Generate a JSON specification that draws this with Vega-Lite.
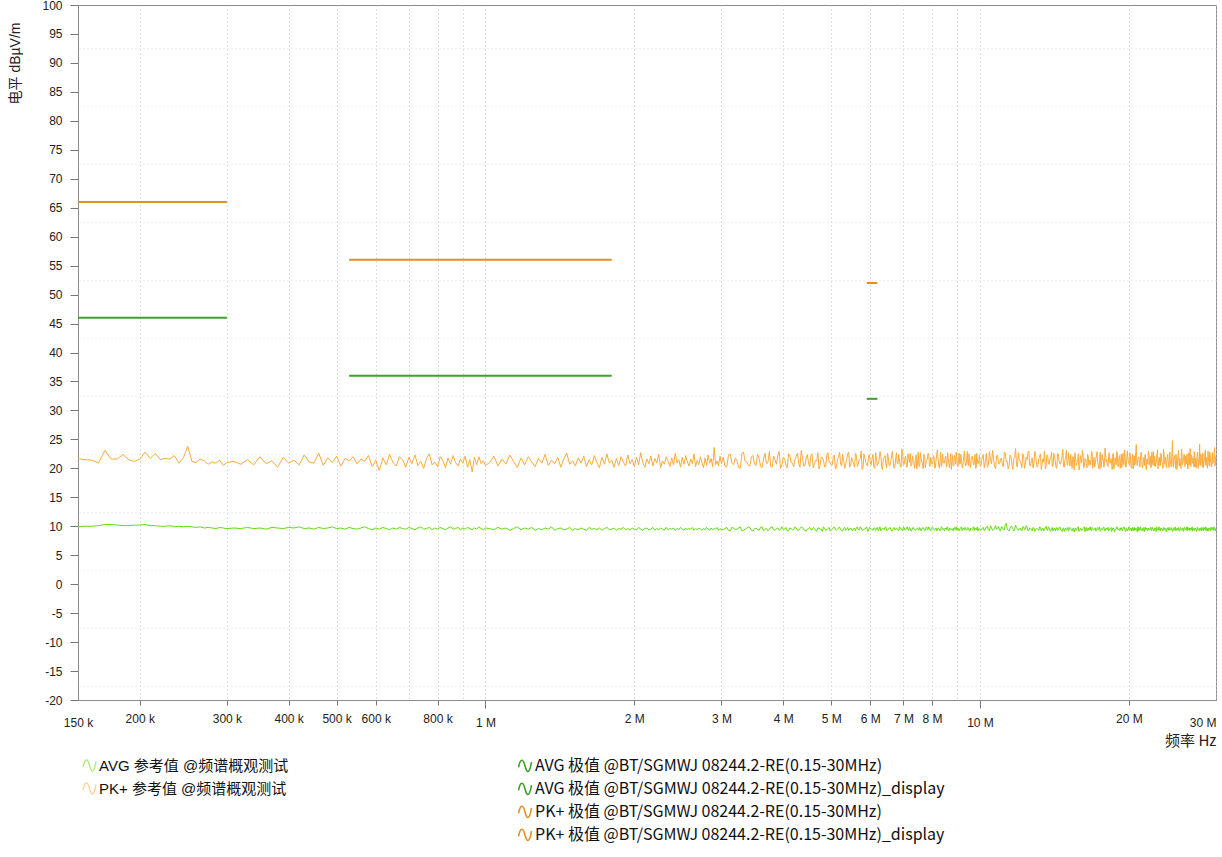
{
"$schema": "https://vega.github.io/schema/vega-lite/v6.json",
"width": 1138, "height": 695,
"autosize": "none",
"padding": {"left": 78, "top": 5, "right": 6, "bottom": 157},
"background": "white",
"config": {"view": {"stroke": "#8c8c8c", "strokeWidth": 1}, "font": "Liberation Sans", "legend": {"padding": 0}},
"datasets": {
"trace": [
{"f":150,"p":21.7,"a":9.9},{"f":155,"p":21.5,"a":10.0},{"f":160,"p":21.4,"a":10.0},{"f":165,"p":20.9,"a":10.1},{"f":170,"p":23.1,"a":10.3},{"f":175,"p":21.6,"a":10.3},{"f":180,"p":21.6,"a":10.2},{"f":185,"p":22.4,"a":10.1},{"f":190,"p":21.5,"a":10.1},{"f":195,"p":21.2,"a":10.2},{"f":200,"p":21.6,"a":10.2},{"f":205,"p":22.8,"a":10.3},{"f":210,"p":21.7,"a":10.1},{"f":215,"p":22.6,"a":10.1},{"f":220,"p":21.5,"a":10.0},{"f":225,"p":21.7,"a":10.0},{"f":230,"p":21.6,"a":10.1},{"f":235,"p":22.2,"a":9.9},{"f":240,"p":20.9,"a":10.0},{"f":245,"p":21.8,"a":9.9},{"f":250,"p":23.8,"a":10.0},{"f":255,"p":21.2,"a":9.9},{"f":260,"p":21.0,"a":9.8},{"f":265,"p":21.6,"a":9.9},{"f":270,"p":21.3,"a":9.7},{"f":275,"p":20.7,"a":9.8},{"f":280,"p":21.1,"a":9.7},{"f":285,"p":20.9,"a":9.6},{"f":290,"p":21.4,"a":9.8},{"f":295,"p":20.5,"a":9.7},{"f":300,"p":21.0,"a":9.6},
{"f":310,"p":21.2,"a":9.7},{"f":320,"p":20.7,"a":9.6},{"f":330,"p":21.5,"a":9.8},{"f":340,"p":20.6,"a":9.6},{"f":350,"p":22.0,"a":9.7},{"f":360,"p":20.8,"a":9.5},{"f":370,"p":21.3,"a":9.8},{"f":380,"p":20.2,"a":9.7},{"f":390,"p":21.9,"a":9.6},{"f":400,"p":20.9,"a":9.8},
{"f":410,"p":21.4,"a":9.7},{"f":420,"p":20.6,"a":9.9},{"f":430,"p":22.3,"a":9.6},{"f":440,"p":21.1,"a":9.7},{"f":450,"p":20.9,"a":9.5},{"f":460,"p":22.6,"a":9.8},{"f":470,"p":20.5,"a":9.6},{"f":480,"p":21.8,"a":9.7},{"f":490,"p":21.0,"a":9.9},{"f":500,"p":22.1,"a":9.6},
{"f":510,"p":20.4,"a":9.7},{"f":520,"p":21.7,"a":9.5},{"f":530,"p":21.3,"a":9.8},{"f":540,"p":22.0,"a":9.6},{"f":550,"p":20.8,"a":9.5},{"f":560,"p":21.6,"a":9.7},{"f":570,"p":21.2,"a":9.9},{"f":580,"p":22.2,"a":9.6},{"f":590,"p":20.3,"a":9.4},{"f":600,"p":21.4,"a":9.7},
{"f":610,"p":19.6,"a":9.5},{"f":620,"p":21.8,"a":9.8},{"f":630,"p":20.6,"a":9.6},{"f":640,"p":22.4,"a":9.4},{"f":650,"p":21.0,"a":9.7},{"f":660,"p":20.4,"a":9.5},{"f":670,"p":22.0,"a":9.8},{"f":680,"p":21.5,"a":9.6},{"f":690,"p":20.2,"a":9.5},{"f":700,"p":21.9,"a":9.8},
{"f":710,"p":20.8,"a":9.6},{"f":720,"p":22.3,"a":9.4},{"f":730,"p":20.5,"a":9.7},{"f":740,"p":21.2,"a":9.9},{"f":750,"p":20.0,"a":9.5},{"f":760,"p":21.7,"a":9.6},{"f":770,"p":22.5,"a":9.8},{"f":780,"p":20.6,"a":9.4},{"f":790,"p":21.1,"a":9.7},{"f":800,"p":20.3,"a":9.5},
{"f":810,"p":22.0,"a":9.8},{"f":820,"p":21.4,"a":9.6},{"f":830,"p":20.1,"a":9.4},{"f":840,"p":21.8,"a":9.7},{"f":850,"p":20.7,"a":9.9},{"f":860,"p":22.2,"a":9.5},{"f":870,"p":21.0,"a":9.6},{"f":880,"p":20.4,"a":9.8},{"f":890,"p":21.6,"a":9.4},{"f":900,"p":20.9,"a":9.7},
{"f":910,"p":22.1,"a":9.5},{"f":920,"p":20.2,"a":9.8},{"f":930,"p":21.5,"a":9.6},{"f":940,"p":19.4,"a":9.4},{"f":950,"p":21.9,"a":9.7},{"f":960,"p":20.6,"a":9.5},{"f":970,"p":22.0,"a":9.9},{"f":980,"p":20.8,"a":9.6},{"f":990,"p":21.3,"a":9.4},{"f":1000,"p":20.5,"a":9.7},
{"f":1020,"p":21.0,"a":9.6},{"f":1040,"p":22.1,"a":9.4},{"f":1060,"p":20.4,"a":9.8},{"f":1080,"p":21.6,"a":9.5},{"f":1100,"p":20.7,"a":9.7},{"f":1120,"p":22.3,"a":9.3},{"f":1140,"p":21.2,"a":9.6},{"f":1160,"p":20.1,"a":9.9},{"f":1180,"p":21.8,"a":9.4},{"f":1200,"p":20.6,"a":9.7},
{"f":1220,"p":22.0,"a":9.5},{"f":1240,"p":21.1,"a":9.8},{"f":1260,"p":20.3,"a":9.3},{"f":1280,"p":21.7,"a":9.6},{"f":1300,"p":20.9,"a":9.4},{"f":1320,"p":22.4,"a":9.7},{"f":1340,"p":20.5,"a":9.5},{"f":1360,"p":21.4,"a":9.9},{"f":1380,"p":20.8,"a":9.3},{"f":1400,"p":21.9,"a":9.6},
{"f":1420,"p":20.2,"a":9.7},{"f":1440,"p":21.6,"a":9.4},{"f":1460,"p":22.6,"a":9.5},{"f":1480,"p":20.7,"a":9.8},{"f":1500,"p":21.3,"a":9.3},{"f":1520,"p":20.4,"a":9.6},{"f":1540,"p":21.8,"a":9.4},{"f":1560,"p":20.9,"a":9.7},{"f":1580,"p":22.1,"a":9.5},{"f":1600,"p":20.3,"a":9.3},
{"f":1620,"p":21.5,"a":9.8},{"f":1640,"p":20.6,"a":9.5},{"f":1660,"p":22.2,"a":9.6},{"f":1680,"p":21.0,"a":9.4},{"f":1700,"p":20.1,"a":9.7},{"f":1720,"p":21.9,"a":9.3},{"f":1740,"p":20.7,"a":9.6},{"f":1760,"p":22.5,"a":9.8},{"f":1780,"p":20.9,"a":9.4},{"f":1800,"p":21.4,"a":9.5},
{"f":1820,"p":20.2,"a":9.7},{"f":1840,"p":21.7,"a":9.3},{"f":1860,"p":20.5,"a":9.6},{"f":1880,"p":22.0,"a":9.5},{"f":1900,"p":21.1,"a":9.8},{"f":1920,"p":20.4,"a":9.4},{"f":1940,"p":22.3,"a":9.6},{"f":1960,"p":20.8,"a":9.3},{"f":1980,"p":21.5,"a":9.7},{"f":2000,"p":20.3,"a":9.5},
{"f":2020,"p":21.9,"a":9.4},{"f":2040,"p":20.6,"a":9.8},{"f":2060,"p":22.7,"a":9.5},{"f":2080,"p":21.0,"a":9.3},{"f":2100,"p":20.2,"a":9.6},{"f":2120,"p":21.6,"a":9.7},{"f":2140,"p":20.8,"a":9.4},{"f":2160,"p":22.1,"a":9.5},{"f":2180,"p":20.4,"a":9.8},{"f":2200,"p":21.7,"a":9.3},
{"f":2220,"p":20.9,"a":9.6},{"f":2240,"p":22.4,"a":9.4},{"f":2260,"p":20.1,"a":9.7},{"f":2280,"p":21.3,"a":9.5},{"f":2300,"p":20.7,"a":9.3},{"f":2320,"p":22.0,"a":9.8},{"f":2340,"p":21.2,"a":9.4},{"f":2360,"p":20.3,"a":9.6},{"f":2380,"p":21.8,"a":9.5},{"f":2400,"p":20.6,"a":9.7},
{"f":2420,"p":22.6,"a":9.3},{"f":2440,"p":20.9,"a":9.6},{"f":2460,"p":21.5,"a":9.4},{"f":2480,"p":20.2,"a":9.8},{"f":2500,"p":21.9,"a":9.5},{"f":2520,"p":20.7,"a":9.3},{"f":2540,"p":22.2,"a":9.7},{"f":2560,"p":21.1,"a":9.4},{"f":2580,"p":20.4,"a":9.6},{"f":2600,"p":21.6,"a":9.5},
{"f":2620,"p":20.8,"a":9.8},{"f":2640,"p":22.5,"a":9.3},{"f":2660,"p":20.3,"a":9.6},{"f":2680,"p":21.4,"a":9.4},{"f":2700,"p":20.6,"a":9.7},{"f":2720,"p":22.0,"a":9.5},{"f":2740,"p":21.0,"a":9.3},{"f":2760,"p":20.1,"a":9.6},{"f":2780,"p":21.8,"a":9.4},{"f":2800,"p":20.5,"a":9.8},
{"f":2820,"p":22.3,"a":9.5},{"f":2840,"p":20.9,"a":9.3},{"f":2860,"p":21.7,"a":9.7},{"f":2880,"p":20.2,"a":9.4},{"f":2900,"p":23.6,"a":9.6},{"f":2920,"p":20.6,"a":9.5},{"f":2940,"p":21.3,"a":9.8},{"f":2960,"p":20.4,"a":9.3},{"f":2980,"p":22.1,"a":9.6},{"f":3000,"p":20.8,"a":9.4},
{"f":3050,"p":20.4,"a":9.6},{"f":3100,"p":22.3,"a":9.3},{"f":3150,"p":20.9,"a":9.8},{"f":3200,"p":21.8,"a":9.4},{"f":3250,"p":20.1,"a":9.7},{"f":3300,"p":22.6,"a":9.2},{"f":3350,"p":21.2,"a":9.5},{"f":3400,"p":20.5,"a":9.9},{"f":3450,"p":22.0,"a":9.3},{"f":3500,"p":20.7,"a":9.6},
{"f":3550,"p":22.4,"a":9.4},{"f":3600,"p":20.3,"a":9.8},{"f":3650,"p":21.6,"a":9.2},{"f":3700,"p":20.8,"a":9.6},{"f":3750,"p":22.9,"a":9.5},{"f":3800,"p":20.2,"a":9.9},{"f":3850,"p":21.5,"a":9.3},{"f":3900,"p":22.2,"a":9.7},{"f":3950,"p":20.0,"a":9.4},{"f":4000,"p":21.9,"a":9.5},
{"f":4050,"p":20.6,"a":9.8},{"f":4100,"p":22.5,"a":9.2},{"f":4150,"p":21.0,"a":9.6},{"f":4200,"p":20.3,"a":9.4},{"f":4250,"p":22.1,"a":9.7},{"f":4300,"p":20.8,"a":9.3},{"f":4350,"p":23.1,"a":9.9},{"f":4400,"p":20.4,"a":9.5},{"f":4450,"p":21.7,"a":9.2},{"f":4500,"p":20.9,"a":9.6},
{"f":4550,"p":22.3,"a":9.4},{"f":4600,"p":20.1,"a":9.8},{"f":4650,"p":21.4,"a":9.3},{"f":4700,"p":22.7,"a":9.7},{"f":4750,"p":20.5,"a":9.5},{"f":4800,"p":21.8,"a":9.1},{"f":4850,"p":20.2,"a":9.6},{"f":4900,"p":22.4,"a":9.4},{"f":4950,"p":21.1,"a":9.8},{"f":5000,"p":20.6,"a":9.3},
{"f":5050,"p":22.0,"a":9.7},{"f":5100,"p":19.9,"a":9.4},{"f":5150,"p":21.6,"a":9.5},{"f":5200,"p":22.8,"a":9.9},{"f":5250,"p":20.4,"a":9.2},{"f":5300,"p":21.3,"a":9.6},{"f":5350,"p":20.7,"a":9.3},{"f":5400,"p":22.5,"a":9.8},{"f":5450,"p":20.2,"a":9.5},{"f":5500,"p":21.9,"a":9.4},
{"f":5550,"p":20.8,"a":9.6},{"f":5600,"p":22.6,"a":9.2},{"f":5650,"p":20.3,"a":9.8},{"f":5700,"p":21.5,"a":9.4},{"f":5750,"p":23.0,"a":9.7},{"f":5800,"p":20.1,"a":9.3},{"f":5850,"p":21.8,"a":9.5},{"f":5900,"p":20.6,"a":9.9},{"f":5950,"p":22.2,"a":9.2},{"f":6000,"p":20.9,"a":9.6},
{"f":6050,"p":21.7,"a":9.4},{"f":6100,"p":20.2,"a":9.7},{"f":6150,"p":22.7,"a":9.3},{"f":6200,"p":20.5,"a":9.8},{"f":6250,"p":21.4,"a":9.5},{"f":6300,"p":22.3,"a":9.2},{"f":6350,"p":19.8,"a":9.6},{"f":6400,"p":21.9,"a":9.4},{"f":6450,"p":20.7,"a":9.9},{"f":6500,"p":22.6,"a":9.3},
{"f":6550,"p":20.4,"a":9.7},{"f":6600,"p":21.2,"a":9.5},{"f":6650,"p":22.9,"a":9.2},{"f":6700,"p":20.0,"a":9.8},{"f":6750,"p":21.6,"a":9.4},{"f":6800,"p":20.8,"a":9.6},{"f":6850,"p":22.4,"a":9.3},{"f":6900,"p":20.3,"a":9.7},{"f":6950,"p":23.3,"a":9.5},{"f":7000,"p":20.6,"a":9.9},
{"f":7050,"p":21.8,"a":9.3},{"f":7100,"p":20.2,"a":9.6},{"f":7150,"p":22.5,"a":9.4},{"f":7200,"p":21.0,"a":9.8},{"f":7250,"p":20.4,"a":9.2},{"f":7300,"p":22.1,"a":9.7},{"f":7350,"p":20.9,"a":9.5},{"f":7400,"p":21.5,"a":9.3},{"f":7450,"p":19.9,"a":9.6},{"f":7500,"p":22.8,"a":9.4},
{"f":7550,"p":20.5,"a":9.8},{"f":7600,"p":21.7,"a":9.2},{"f":7650,"p":20.8,"a":9.7},{"f":7700,"p":22.4,"a":9.5},{"f":7750,"p":20.1,"a":9.3},{"f":7800,"p":21.3,"a":9.9},{"f":7850,"p":22.6,"a":9.4},{"f":7900,"p":20.4,"a":9.6},{"f":7950,"p":21.9,"a":9.2},{"f":8000,"p":20.7,"a":9.8},
{"f":8050,"p":22.2,"a":9.5},{"f":8100,"p":20.0,"a":9.3},{"f":8150,"p":21.6,"a":9.7},{"f":8200,"p":23.2,"a":9.4},{"f":8250,"p":20.6,"a":9.6},{"f":8300,"p":21.1,"a":9.2},{"f":8350,"p":20.3,"a":9.9},{"f":8400,"p":22.5,"a":9.5},{"f":8450,"p":20.9,"a":9.3},{"f":8500,"p":21.8,"a":9.7},
{"f":8550,"p":20.2,"a":9.4},{"f":8600,"p":22.7,"a":9.8},{"f":8650,"p":20.8,"a":9.2},{"f":8700,"p":21.4,"a":9.6},{"f":8750,"p":19.8,"a":9.5},{"f":8800,"p":22.3,"a":9.3},{"f":8850,"p":20.5,"a":9.7},{"f":8900,"p":21.9,"a":9.4},{"f":8950,"p":22.8,"a":9.9},{"f":9000,"p":20.3,"a":9.6},
{"f":9050,"p":21.6,"a":9.3},{"f":9100,"p":20.7,"a":9.5},{"f":9150,"p":22.4,"a":9.8},{"f":9200,"p":20.1,"a":9.2},{"f":9250,"p":21.2,"a":9.7},{"f":9300,"p":23.0,"a":9.4},{"f":9350,"p":20.4,"a":9.6},{"f":9400,"p":21.8,"a":9.3},{"f":9450,"p":20.9,"a":9.8},{"f":9500,"p":22.5,"a":9.5},
{"f":9550,"p":20.2,"a":9.2},{"f":9600,"p":21.5,"a":9.6},{"f":9650,"p":22.1,"a":9.4},{"f":9700,"p":20.6,"a":9.9},{"f":9750,"p":21.9,"a":9.3},{"f":9800,"p":20.0,"a":9.7},{"f":9850,"p":22.6,"a":9.5},{"f":9900,"p":20.8,"a":9.2},{"f":9950,"p":21.3,"a":9.6},{"f":10000,"p":20.4,"a":9.4},
{"f":10100,"p":21.9,"a":9.6},{"f":10200,"p":20.1,"a":9.2},{"f":10300,"p":22.6,"a":9.9},{"f":10400,"p":20.7,"a":9.4},{"f":10500,"p":21.4,"a":10.1},{"f":10600,"p":23.1,"a":9.3},{"f":10700,"p":20.3,"a":9.7},{"f":10800,"p":22.0,"a":9.5},{"f":10900,"p":20.9,"a":10.0},{"f":11000,"p":21.6,"a":9.2},
{"f":11100,"p":20.4,"a":9.8},{"f":11200,"p":22.8,"a":9.4},{"f":11300,"p":21.1,"a":10.5},{"f":11400,"p":19.9,"a":9.3},{"f":11500,"p":22.3,"a":9.7},{"f":11600,"p":20.6,"a":9.9},{"f":11700,"p":21.7,"a":9.2},{"f":11800,"p":23.4,"a":10.2},{"f":11900,"p":20.2,"a":9.5},{"f":12000,"p":21.5,"a":9.6},
{"f":12100,"p":20.8,"a":9.3},{"f":12200,"p":22.5,"a":9.9},{"f":12300,"p":20.0,"a":9.4},{"f":12400,"p":21.9,"a":10.1},{"f":12500,"p":22.7,"a":9.2},{"f":12600,"p":20.5,"a":9.7},{"f":12700,"p":21.3,"a":9.5},{"f":12800,"p":20.1,"a":9.8},{"f":12900,"p":22.9,"a":9.1},{"f":13000,"p":21.0,"a":9.6},
{"f":13100,"p":20.6,"a":9.4},{"f":13200,"p":22.2,"a":9.9},{"f":13300,"p":19.8,"a":9.2},{"f":13400,"p":21.6,"a":9.7},{"f":13500,"p":23.0,"a":9.5},{"f":13600,"p":20.4,"a":10.0},{"f":13700,"p":22.1,"a":9.3},{"f":13800,"p":20.7,"a":9.6},{"f":13900,"p":21.8,"a":9.1},{"f":14000,"p":20.3,"a":9.8},
{"f":14100,"p":22.6,"a":9.5},{"f":14200,"p":21.2,"a":9.2},{"f":14300,"p":20.0,"a":9.8},{"f":14400,"p":22.4,"a":9.4},{"f":14500,"p":20.8,"a":9.9},{"f":14600,"p":21.5,"a":9.3},{"f":14700,"p":23.3,"a":9.6},{"f":14800,"p":20.2,"a":9.1},{"f":14900,"p":21.9,"a":9.7},{"f":15000,"p":20.6,"a":9.5},
{"f":15100,"p":22.7,"a":9.2},{"f":15200,"p":20.4,"a":9.8},{"f":15300,"p":21.3,"a":9.4},{"f":15400,"p":22.0,"a":9.6},{"f":15500,"p":19.7,"a":9.0},{"f":15600,"p":21.8,"a":9.7},{"f":15700,"p":20.9,"a":9.5},{"f":15800,"p":22.5,"a":9.9},{"f":15900,"p":20.3,"a":9.3},{"f":16000,"p":21.6,"a":9.6},
{"f":16100,"p":23.1,"a":9.4},{"f":16200,"p":20.1,"a":9.7},{"f":16300,"p":21.7,"a":9.1},{"f":16400,"p":20.8,"a":9.8},{"f":16500,"p":22.4,"a":9.5},{"f":16600,"p":20.5,"a":9.3},{"f":16700,"p":21.2,"a":9.9},{"f":16800,"p":22.9,"a":9.2},{"f":16900,"p":20.0,"a":9.6},{"f":17000,"p":21.9,"a":9.4},
{"f":17100,"p":20.7,"a":9.7},{"f":17200,"p":22.3,"a":9.3},{"f":17300,"p":21.0,"a":9.8},{"f":17400,"p":19.9,"a":9.5},{"f":17500,"p":22.8,"a":9.1},{"f":17600,"p":20.6,"a":9.6},{"f":17700,"p":21.5,"a":9.4},{"f":17800,"p":20.2,"a":9.9},{"f":17900,"p":23.5,"a":9.2},{"f":18000,"p":21.1,"a":9.7},
{"f":18100,"p":20.4,"a":9.5},{"f":18200,"p":22.1,"a":9.2},{"f":18300,"p":20.9,"a":9.6},{"f":18400,"p":21.7,"a":9.8},{"f":18500,"p":19.8,"a":9.3},{"f":18600,"p":22.6,"a":9.7},{"f":18700,"p":20.5,"a":9.0},{"f":18800,"p":21.4,"a":9.5},{"f":18900,"p":22.9,"a":9.9},{"f":19000,"p":20.3,"a":9.4},
{"f":19100,"p":21.8,"a":9.6},{"f":19200,"p":20.0,"a":9.3},{"f":19300,"p":22.4,"a":9.8},{"f":19400,"p":21.0,"a":9.2},{"f":19500,"p":20.6,"a":9.7},{"f":19600,"p":23.2,"a":9.5},{"f":19700,"p":20.2,"a":9.1},{"f":19800,"p":21.6,"a":9.6},{"f":19900,"p":22.0,"a":9.4},{"f":20000,"p":20.8,"a":9.9},
{"f":20100,"p":22.7,"a":9.3},{"f":20200,"p":20.3,"a":9.7},{"f":20300,"p":21.5,"a":9.5},{"f":20400,"p":19.9,"a":9.2},{"f":20500,"p":22.2,"a":9.8},{"f":20600,"p":20.7,"a":9.4},{"f":20700,"p":24.1,"a":9.6},{"f":20800,"p":20.4,"a":9.0},{"f":20900,"p":21.9,"a":9.7},{"f":21000,"p":20.9,"a":9.5},
{"f":21100,"p":21.3,"a":9.9},{"f":21200,"p":22.8,"a":9.3},{"f":21300,"p":20.1,"a":9.6},{"f":21400,"p":21.7,"a":9.4},{"f":21500,"p":20.5,"a":9.1},{"f":21600,"p":22.4,"a":9.8},{"f":21700,"p":19.8,"a":9.5},{"f":21800,"p":21.2,"a":9.2},{"f":21900,"p":23.0,"a":9.7},{"f":22000,"p":20.6,"a":9.4},
{"f":22100,"p":22.1,"a":9.6},{"f":22200,"p":20.2,"a":9.2},{"f":22300,"p":21.6,"a":9.8},{"f":22400,"p":22.9,"a":9.5},{"f":22500,"p":20.4,"a":9.3},{"f":22600,"p":21.0,"a":9.7},{"f":22700,"p":20.8,"a":9.1},{"f":22800,"p":22.5,"a":9.6},{"f":22900,"p":19.9,"a":9.4},{"f":23000,"p":21.8,"a":9.9},
{"f":23100,"p":20.5,"a":9.3},{"f":23200,"p":22.6,"a":9.7},{"f":23300,"p":21.1,"a":9.5},{"f":23400,"p":20.0,"a":9.2},{"f":23500,"p":23.3,"a":9.8},{"f":23600,"p":20.7,"a":9.4},{"f":23700,"p":21.9,"a":9.6},{"f":23800,"p":20.3,"a":9.0},{"f":23900,"p":22.2,"a":9.7},{"f":24000,"p":21.4,"a":9.5},
{"f":24100,"p":20.1,"a":9.8},{"f":24200,"p":22.8,"a":9.3},{"f":24300,"p":20.6,"a":9.6},{"f":24400,"p":21.5,"a":9.4},{"f":24500,"p":24.8,"a":9.1},{"f":24600,"p":20.2,"a":9.7},{"f":24700,"p":21.7,"a":9.5},{"f":24800,"p":20.9,"a":9.9},{"f":24900,"p":22.4,"a":9.2},{"f":25000,"p":19.8,"a":9.6},
{"f":25100,"p":21.6,"a":9.4},{"f":25200,"p":23.1,"a":9.8},{"f":25300,"p":20.4,"a":9.2},{"f":25400,"p":21.2,"a":9.6},{"f":25500,"p":20.0,"a":9.5},{"f":25600,"p":22.7,"a":9.3},{"f":25700,"p":20.8,"a":9.7},{"f":25800,"p":21.9,"a":9.1},{"f":25900,"p":22.3,"a":9.8},{"f":26000,"p":20.5,"a":9.4},
{"f":26100,"p":21.0,"a":9.6},{"f":26200,"p":22.5,"a":9.2},{"f":26300,"p":19.9,"a":9.9},{"f":26400,"p":21.7,"a":9.4},{"f":26500,"p":20.6,"a":9.7},{"f":26600,"p":23.4,"a":9.3},{"f":26700,"p":20.3,"a":9.5},{"f":26800,"p":22.0,"a":9.8},{"f":26900,"p":20.9,"a":9.2},{"f":27000,"p":21.4,"a":9.6},
{"f":27100,"p":22.9,"a":9.3},{"f":27200,"p":20.2,"a":9.7},{"f":27300,"p":21.8,"a":9.5},{"f":27400,"p":20.7,"a":9.1},{"f":27500,"p":22.3,"a":9.8},{"f":27600,"p":20.0,"a":9.4},{"f":27700,"p":21.5,"a":9.6},{"f":27800,"p":24.2,"a":9.2},{"f":27900,"p":20.5,"a":9.7},{"f":28000,"p":21.9,"a":9.5},
{"f":28100,"p":20.8,"a":9.8},{"f":28200,"p":22.6,"a":9.4},{"f":28300,"p":20.1,"a":9.2},{"f":28400,"p":21.3,"a":9.7},{"f":28500,"p":22.8,"a":9.5},{"f":28600,"p":20.6,"a":9.9},{"f":28700,"p":21.9,"a":9.3},{"f":28800,"p":20.3,"a":9.6},{"f":28900,"p":23.0,"a":9.1},{"f":29000,"p":21.2,"a":9.7},
{"f":29100,"p":20.4,"a":9.5},{"f":29200,"p":22.4,"a":9.2},{"f":29300,"p":21.0,"a":9.8},{"f":29400,"p":20.2,"a":9.4},{"f":29500,"p":22.7,"a":9.6},{"f":29600,"p":20.9,"a":9.3},{"f":29700,"p":21.6,"a":9.9},{"f":29800,"p":23.6,"a":9.5},{"f":29900,"p":20.7,"a":9.2},{"f":30000,"p":22.1,"a":9.6},
{"f":3025,"p":21.9,"a":9.4},{"f":3075,"p":20.2,"a":9.8},{"f":3125,"p":22.5,"a":9.2},{"f":3175,"p":20.6,"a":9.7},{"f":3225,"p":21.4,"a":9.5},{"f":3275,"p":20.0,"a":9.9},{"f":3325,"p":22.8,"a":9.3},{"f":3375,"p":21.1,"a":9.6},{"f":3425,"p":20.4,"a":9.8},{"f":3475,"p":22.2,"a":9.2},
{"f":3525,"p":20.5,"a":9.7},{"f":3575,"p":21.8,"a":9.3},{"f":3625,"p":20.1,"a":9.9},{"f":3675,"p":22.6,"a":9.5},{"f":3725,"p":21.0,"a":9.2},{"f":3775,"p":20.3,"a":9.8},{"f":3825,"p":22.1,"a":9.4},{"f":3875,"p":20.7,"a":9.6},{"f":3925,"p":22.9,"a":9.3},{"f":3975,"p":20.6,"a":9.9},
{"f":4025,"p":21.7,"a":9.5},{"f":4075,"p":20.1,"a":9.2},{"f":4125,"p":22.3,"a":9.7},{"f":4175,"p":20.9,"a":9.4},{"f":4225,"p":21.5,"a":9.9},{"f":4275,"p":22.6,"a":9.3},{"f":4325,"p":20.2,"a":9.6},{"f":4375,"p":21.8,"a":9.8},{"f":4425,"p":20.5,"a":9.2},{"f":4475,"p":22.4,"a":9.5},
{"f":4525,"p":20.3,"a":9.8},{"f":4575,"p":22.5,"a":9.4},{"f":4625,"p":20.8,"a":9.6},{"f":4675,"p":21.2,"a":9.1},{"f":4725,"p":19.9,"a":9.7},{"f":4775,"p":22.0,"a":9.5},{"f":4825,"p":21.4,"a":9.9},{"f":4875,"p":20.4,"a":9.3},{"f":4925,"p":22.7,"a":9.6},{"f":4975,"p":21.0,"a":9.2},
{"f":5025,"p":20.6,"a":9.5},{"f":5075,"p":22.3,"a":9.9},{"f":5125,"p":20.1,"a":9.3},{"f":5175,"p":21.9,"a":9.7},{"f":5225,"p":20.7,"a":9.4},{"f":5275,"p":22.4,"a":9.2},{"f":5325,"p":20.0,"a":9.8},{"f":5375,"p":21.6,"a":9.5},{"f":5425,"p":22.8,"a":9.3},{"f":5475,"p":20.5,"a":9.7},
{"f":5525,"p":21.3,"a":9.2},{"f":5575,"p":20.2,"a":9.6},{"f":5625,"p":22.1,"a":9.8},{"f":5675,"p":20.9,"a":9.4},{"f":5725,"p":21.7,"a":9.9},{"f":5775,"p":19.8,"a":9.3},{"f":5825,"p":22.5,"a":9.5},{"f":5875,"p":21.0,"a":9.7},{"f":5925,"p":20.4,"a":9.1},{"f":5975,"p":22.3,"a":9.8},
{"f":6025,"p":20.6,"a":9.6},{"f":6075,"p":22.4,"a":9.3},{"f":6125,"p":20.0,"a":9.7},{"f":6175,"p":21.5,"a":9.5},{"f":6225,"p":20.9,"a":9.2},{"f":6275,"p":22.9,"a":9.9},{"f":6325,"p":20.3,"a":9.4},{"f":6375,"p":21.7,"a":9.6},{"f":6425,"p":22.2,"a":9.8},{"f":6475,"p":20.1,"a":9.3},
{"f":6525,"p":21.9,"a":9.5},{"f":6575,"p":20.5,"a":9.8},{"f":6625,"p":22.2,"a":9.2},{"f":6675,"p":21.4,"a":9.6},{"f":6725,"p":20.1,"a":9.4},{"f":6775,"p":22.7,"a":9.7},{"f":6825,"p":20.8,"a":9.3},{"f":6875,"p":21.3,"a":9.9},{"f":6925,"p":20.2,"a":9.5},{"f":6975,"p":22.4,"a":9.2},
{"f":7025,"p":20.7,"a":9.7},{"f":7075,"p":22.1,"a":9.4},{"f":7125,"p":20.3,"a":9.9},{"f":7175,"p":21.8,"a":9.3},{"f":7225,"p":22.6,"a":9.6},{"f":7275,"p":20.5,"a":9.2},{"f":7325,"p":21.2,"a":9.8},{"f":7375,"p":20.0,"a":9.5},{"f":7425,"p":22.3,"a":9.4},{"f":7475,"p":21.0,"a":9.7},
{"f":7525,"p":20.3,"a":9.3},{"f":7575,"p":22.7,"a":9.6},{"f":7625,"p":21.1,"a":9.5},{"f":7675,"p":19.9,"a":9.8},{"f":7725,"p":22.0,"a":9.2},{"f":7775,"p":20.9,"a":9.7},{"f":7825,"p":21.6,"a":9.4},{"f":7875,"p":22.5,"a":9.9},{"f":7925,"p":20.4,"a":9.3},{"f":7975,"p":21.2,"a":9.6},
{"f":8025,"p":20.8,"a":9.8},{"f":8075,"p":21.9,"a":9.4},{"f":8125,"p":20.2,"a":9.6},{"f":8175,"p":22.4,"a":9.2},{"f":8225,"p":21.5,"a":9.7},{"f":8275,"p":20.0,"a":9.5},{"f":8325,"p":22.8,"a":9.3},{"f":8375,"p":20.6,"a":9.8},{"f":8425,"p":21.3,"a":9.6},{"f":8475,"p":20.9,"a":9.2},
{"f":8525,"p":22.1,"a":9.5},{"f":8575,"p":20.5,"a":9.9},{"f":8625,"p":21.7,"a":9.3},{"f":8675,"p":20.1,"a":9.7},{"f":8725,"p":22.5,"a":9.4},{"f":8775,"p":21.2,"a":9.6},{"f":8825,"p":20.4,"a":9.2},{"f":8875,"p":22.2,"a":9.8},{"f":8925,"p":20.7,"a":9.5},{"f":8975,"p":21.8,"a":9.3},
{"f":9025,"p":20.3,"a":9.7},{"f":9075,"p":22.6,"a":9.2},{"f":9125,"p":20.9,"a":9.6},{"f":9175,"p":21.4,"a":9.9},{"f":9225,"p":20.1,"a":9.4},{"f":9275,"p":22.3,"a":9.5},{"f":9325,"p":21.0,"a":9.8},{"f":9375,"p":20.6,"a":9.3},{"f":9425,"p":22.9,"a":9.6},{"f":9475,"p":20.5,"a":9.4},
{"f":9525,"p":21.8,"a":9.2},{"f":9575,"p":20.2,"a":9.7},{"f":9625,"p":22.0,"a":9.5},{"f":9675,"p":21.3,"a":9.3},{"f":9725,"p":20.7,"a":9.8},{"f":9775,"p":22.4,"a":9.6},{"f":9825,"p":20.1,"a":9.4},{"f":9875,"p":21.6,"a":9.9},{"f":9925,"p":20.9,"a":9.3},{"f":9975,"p":22.2,"a":9.5},
{"f":10050,"p":20.5,"a":9.3},{"f":10150,"p":22.4,"a":9.8},{"f":10250,"p":21.0,"a":9.5},{"f":10350,"p":20.2,"a":10.0},{"f":10450,"p":22.9,"a":9.2},{"f":10550,"p":20.8,"a":9.7},{"f":10650,"p":21.6,"a":9.4},{"f":10750,"p":19.9,"a":10.1},{"f":10850,"p":22.3,"a":9.6},{"f":10950,"p":20.7,"a":9.3},
{"f":11050,"p":21.8,"a":9.9},{"f":11150,"p":20.3,"a":9.4},{"f":11250,"p":22.6,"a":10.3},{"f":11350,"p":21.2,"a":9.5},{"f":11450,"p":20.5,"a":9.2},{"f":11550,"p":22.0,"a":10.0},{"f":11650,"p":19.8,"a":9.6},{"f":11750,"p":21.9,"a":9.4},{"f":11850,"p":20.6,"a":9.8},{"f":11950,"p":22.7,"a":9.3},
{"f":12050,"p":21.3,"a":9.7},{"f":12150,"p":20.1,"a":9.2},{"f":12250,"p":22.2,"a":9.9},{"f":12350,"p":20.7,"a":9.5},{"f":12450,"p":21.5,"a":9.8},{"f":12550,"p":23.0,"a":9.3},{"f":12650,"p":20.4,"a":9.6},{"f":12750,"p":21.8,"a":9.2},{"f":12850,"p":20.9,"a":9.7},{"f":12950,"p":22.4,"a":9.4},
{"f":13050,"p":20.2,"a":9.6},{"f":13150,"p":21.7,"a":9.3},{"f":13250,"p":22.5,"a":9.8},{"f":13350,"p":20.6,"a":9.5},{"f":13450,"p":21.1,"a":9.2},{"f":13550,"p":19.9,"a":9.7},{"f":13650,"p":22.3,"a":9.4},{"f":13750,"p":20.8,"a":9.9},{"f":13850,"p":21.6,"a":9.3},{"f":13950,"p":22.8,"a":9.6},
{"f":14050,"p":20.4,"a":9.2},{"f":14150,"p":21.9,"a":9.7},{"f":14250,"p":20.1,"a":9.5},{"f":14350,"p":22.6,"a":9.3},{"f":14450,"p":21.3,"a":9.8},{"f":14550,"p":20.7,"a":9.4},{"f":14650,"p":22.1,"a":9.1},{"f":14750,"p":20.3,"a":9.7},{"f":14850,"p":21.5,"a":9.5},{"f":14950,"p":23.1,"a":9.3},
{"f":15050,"p":20.6,"a":9.8},{"f":15150,"p":21.2,"a":9.4},{"f":15250,"p":22.4,"a":9.6},{"f":15350,"p":20.0,"a":9.2},{"f":15450,"p":21.8,"a":9.7},{"f":15550,"p":22.7,"a":9.5},{"f":15650,"p":20.5,"a":9.3},{"f":15750,"p":21.0,"a":9.8},{"f":15850,"p":19.7,"a":9.1},{"f":15950,"p":22.2,"a":9.6},
{"f":16050,"p":20.9,"a":9.3},{"f":16150,"p":22.5,"a":9.6},{"f":16250,"p":20.3,"a":9.9},{"f":16350,"p":21.6,"a":9.4},{"f":16450,"p":20.1,"a":9.2},{"f":16550,"p":22.0,"a":9.7},{"f":16650,"p":21.4,"a":9.5},{"f":16750,"p":20.6,"a":9.3},{"f":16850,"p":22.8,"a":9.8},{"f":16950,"p":21.1,"a":9.4},
{"f":17050,"p":20.2,"a":9.6},{"f":17150,"p":21.7,"a":9.2},{"f":17250,"p":22.9,"a":9.7},{"f":17350,"p":20.5,"a":9.4},{"f":17450,"p":21.3,"a":9.9},{"f":17550,"p":20.0,"a":9.3},{"f":17650,"p":22.4,"a":9.5},{"f":17750,"p":21.6,"a":9.8},{"f":17850,"p":20.8,"a":9.2},{"f":17950,"p":22.1,"a":9.6},
{"f":18050,"p":21.5,"a":9.4},{"f":18150,"p":20.3,"a":9.8},{"f":18250,"p":22.7,"a":9.3},{"f":18350,"p":20.9,"a":9.6},{"f":18450,"p":21.1,"a":9.1},{"f":18550,"p":22.3,"a":9.7},{"f":18650,"p":19.9,"a":9.5},{"f":18750,"p":21.8,"a":9.3},{"f":18850,"p":20.6,"a":9.6},{"f":18950,"p":22.5,"a":9.8},
{"f":19050,"p":20.4,"a":9.5},{"f":19150,"p":22.2,"a":9.2},{"f":19250,"p":21.0,"a":9.7},{"f":19350,"p":20.1,"a":9.4},{"f":19450,"p":22.6,"a":9.6},{"f":19550,"p":20.7,"a":9.9},{"f":19650,"p":21.9,"a":9.3},{"f":19750,"p":20.3,"a":9.7},{"f":19850,"p":23.0,"a":9.2},{"f":19950,"p":21.2,"a":9.5},
{"f":20050,"p":20.6,"a":9.6},{"f":20150,"p":21.8,"a":9.4},{"f":20250,"p":20.0,"a":9.2},{"f":20350,"p":22.4,"a":9.8},{"f":20450,"p":21.3,"a":9.5},{"f":20550,"p":20.5,"a":9.3},{"f":20650,"p":22.9,"a":9.7},{"f":20750,"p":20.8,"a":9.4},{"f":20850,"p":21.5,"a":9.9},{"f":20950,"p":22.0,"a":9.2},
{"f":21050,"p":20.2,"a":9.7},{"f":21150,"p":22.7,"a":9.3},{"f":21250,"p":21.1,"a":9.6},{"f":21350,"p":20.4,"a":9.2},{"f":21450,"p":21.9,"a":9.8},{"f":21550,"p":22.3,"a":9.5},{"f":21650,"p":20.0,"a":9.4},{"f":21750,"p":21.6,"a":9.7},{"f":21850,"p":20.7,"a":9.3},{"f":21950,"p":22.5,"a":9.6},
{"f":22050,"p":21.4,"a":9.4},{"f":22150,"p":20.1,"a":9.8},{"f":22250,"p":22.8,"a":9.3},{"f":22350,"p":20.6,"a":9.6},{"f":22450,"p":21.2,"a":9.2},{"f":22550,"p":22.1,"a":9.7},{"f":22650,"p":20.3,"a":9.5},{"f":22750,"p":21.7,"a":9.9},{"f":22850,"p":23.2,"a":9.4},{"f":22950,"p":20.5,"a":9.3},
{"f":23050,"p":21.9,"a":9.6},{"f":23150,"p":20.4,"a":9.2},{"f":23250,"p":22.3,"a":9.7},{"f":23350,"p":21.0,"a":9.5},{"f":23450,"p":20.2,"a":9.3},{"f":23550,"p":22.6,"a":9.8},{"f":23650,"p":20.8,"a":9.4},{"f":23750,"p":21.5,"a":9.6},{"f":23850,"p":20.1,"a":9.1},{"f":23950,"p":22.4,"a":9.7},
{"f":24050,"p":20.7,"a":9.3},{"f":24150,"p":22.0,"a":9.6},{"f":24250,"p":21.3,"a":9.4},{"f":24350,"p":20.3,"a":9.8},{"f":24450,"p":22.9,"a":9.5},{"f":24550,"p":20.6,"a":9.2},{"f":24650,"p":21.8,"a":9.7},{"f":24750,"p":22.2,"a":9.3},{"f":24850,"p":20.0,"a":9.6},{"f":24950,"p":21.6,"a":9.4},
{"f":25050,"p":20.4,"a":9.7},{"f":25150,"p":22.5,"a":9.3},{"f":25250,"p":20.9,"a":9.5},{"f":25350,"p":21.7,"a":9.2},{"f":25450,"p":20.2,"a":9.8},{"f":25550,"p":23.3,"a":9.4},{"f":25650,"p":20.6,"a":9.6},{"f":25750,"p":21.1,"a":9.3},{"f":25850,"p":22.4,"a":9.7},{"f":25950,"p":20.3,"a":9.5},
{"f":26050,"p":22.1,"a":9.4},{"f":26150,"p":20.8,"a":9.8},{"f":26250,"p":21.6,"a":9.2},{"f":26350,"p":20.0,"a":9.6},{"f":26450,"p":22.7,"a":9.5},{"f":26550,"p":21.2,"a":9.3},{"f":26650,"p":20.5,"a":9.7},{"f":26750,"p":22.3,"a":9.4},{"f":26850,"p":20.9,"a":9.9},{"f":26950,"p":21.8,"a":9.2},
{"f":27050,"p":20.3,"a":9.6},{"f":27150,"p":22.6,"a":9.3},{"f":27250,"p":21.4,"a":9.7},{"f":27350,"p":20.1,"a":9.5},{"f":27450,"p":21.9,"a":9.2},{"f":27550,"p":22.8,"a":9.8},{"f":27650,"p":20.4,"a":9.4},{"f":27750,"p":21.0,"a":9.6},{"f":27850,"p":20.7,"a":9.3},{"f":27950,"p":22.5,"a":9.7},
{"f":28050,"p":21.7,"a":9.2},{"f":28150,"p":20.2,"a":9.6},{"f":28250,"p":22.1,"a":9.4},{"f":28350,"p":20.9,"a":9.8},{"f":28450,"p":21.3,"a":9.5},{"f":28550,"p":23.1,"a":9.3},{"f":28650,"p":20.5,"a":9.7},{"f":28750,"p":21.8,"a":9.2},{"f":28850,"p":20.0,"a":9.6},{"f":28950,"p":22.4,"a":9.4},
{"f":29050,"p":20.6,"a":9.7},{"f":29150,"p":22.8,"a":9.4},{"f":29250,"p":21.1,"a":9.2},{"f":29350,"p":20.3,"a":9.6},{"f":29450,"p":22.2,"a":9.8},{"f":29550,"p":20.8,"a":9.5},{"f":29650,"p":21.5,"a":9.3},{"f":29750,"p":22.6,"a":9.7},{"f":29850,"p":20.4,"a":9.4},{"f":29950,"p":21.9,"a":9.6}
],
"limits": [
{"s":"AVG 极值 @BT/SGMWJ 08244.2-RE(0.15-30MHz)","f1":150,"f2":300,"v":46},
{"s":"AVG 极值 @BT/SGMWJ 08244.2-RE(0.15-30MHz)","f1":530,"f2":1800,"v":36},
{"s":"AVG 极值 @BT/SGMWJ 08244.2-RE(0.15-30MHz)","f1":5900,"f2":6200,"v":32},
{"s":"PK+ 极值 @BT/SGMWJ 08244.2-RE(0.15-30MHz)","f1":150,"f2":300,"v":66},
{"s":"PK+ 极值 @BT/SGMWJ 08244.2-RE(0.15-30MHz)","f1":530,"f2":1800,"v":56},
{"s":"PK+ 极值 @BT/SGMWJ 08244.2-RE(0.15-30MHz)","f1":5900,"f2":6200,"v":52}
]
},
"layer": [
{"data": {"name": "trace"},
 "layer": [
  {"mark": {"type": "line", "strokeWidth": 1, "clip": true},
   "encoding": {
    "x": {"field": "f", "type": "quantitative", "title": "频率 Hz",
      "scale": {"type": "log", "domain": [150, 30000], "nice": false},
      "axis": {
        "values": [150,200,300,400,500,600,700,800,900,1000,2000,3000,4000,5000,6000,7000,8000,9000,10000,20000,30000],
        "labelExpr": "(datum.value==700||datum.value==900||datum.value==9000)?'':(datum.value>=1000?(datum.value/1000)+' M':datum.value+' k')",
        "labelFont": "Liberation Sans", "labelFontSize": 12, "labelColor": "#222",
        "labelAlign": {"condition": {"test": "datum.value==30000", "value": "right"}, "value": "center"},
        "labelPadding": {"condition": [{"test": "datum.value==1000||datum.value==10000", "value": 9}, {"test": "datum.value==150||datum.value==30000", "value": 12}], "value": 8},
        "labelOverlap": false,
        "tickSize": {"condition": {"test": "datum.value==1000||datum.value==10000", "value": 8}, "value": 5},
        "tickOpacity": {"condition": {"test": "datum.value==700||datum.value==900||datum.value==9000||datum.value==150||datum.value==30000", "value": 0}, "value": 1},
        "tickColor": "#777", "domainColor": "#8c8c8c",
        "gridColor": "#bdbdbd", "gridDash": [1, 3],
        "titleFont": "Noto Sans CJK SC", "titleFontSize": 15, "titleFontWeight": "normal", "titleColor": "#222",
        "titleAnchor": "end", "titleAlign": "right", "titleBaseline": "middle", "titleX": 1138, "titleY": 40
      }},
    "y": {"field": "a", "type": "quantitative", "title": null,
      "scale": {"domain": [-20, 100], "nice": false, "zero": false},
      "axis": {"orient": "right", "values": [-17.5,-12.5,-7.5,-2.5,2.5,7.5,12.5,17.5,22.5,27.5,32.5,37.5,42.5,47.5,52.5,57.5,62.5,67.5,72.5,77.5,82.5,87.5,92.5,97.5],
        "labels": false, "ticks": false, "domain": false, "grid": true, "gridColor": "#e2e2e2", "gridDash": [1, 3], "title": null}},
    "color": {"datum": "AVG 参考值 @频谱概观测试", "type": "nominal",
      "scale": {"domain": ["AVG 参考值 @频谱概观测试", "PK+ 参考值 @频谱概观测试"], "range": ["#62dc0e", "#fbab3a"]},
      "legend": {"orient": "none", "legendX": 4, "legendY": 753, "title": null,
        "symbolType": "M-1,0.2C-0.7,-1.2 -0.3,-1.2 0,0C0.3,1.2 0.7,1.2 1,-0.6",
        "symbolSize": 169, "symbolStrokeWidth": 1.3, "symbolOpacity": 0.55, "symbolFillColor": "transparent",
        "labelFont": "Liberation Sans, Noto Sans CJK SC", "labelFontSize": 15, "labelColor": "#111", "labelOffset": 2,
        "rowPadding": 6, "labelLimit": 400}
    }}},
  {"mark": {"type": "line", "strokeWidth": 1, "clip": true},
   "encoding": {
    "x": {"field": "f", "type": "quantitative", "title": "频率 Hz"},
    "y": {"field": "p", "type": "quantitative", "title": null},
    "color": {"datum": "PK+ 参考值 @频谱概观测试", "type": "nominal"}
   }}
 ]},
{"data": {"name": "limits"},
 "mark": {"type": "rule", "strokeWidth": 2},
 "encoding": {
  "x": {"field": "f1", "type": "quantitative", "title": "频率 Hz"},
  "x2": {"field": "f2"},
  "y": {"field": "v", "type": "quantitative", "title": "电平 dBµV/m",
    "axis": {
        "orient": "left",
        "values": [-20,-15,-10,-5,0,5,10,15,20,25,30,35,40,45,50,55,60,65,70,75,80,85,90,95,100],
        "labelExpr": "'' + datum.value",
        "labelFont": "Liberation Sans", "labelFontSize": 12, "labelColor": "#222", "labelPadding": 8,
        "labelOverlap": false,
        "tickSize": 8, "tickColor": "#777",
        "domainColor": "#8c8c8c",
        "gridColor": "#bdbdbd", "gridDash": [1, 3],
        "titleFont": "Liberation Sans, Noto Sans CJK SC", "titleFontSize": 14, "titleFontWeight": "normal", "titleColor": "#222",
        "titleAngle": 270, "titleAlign": "right", "titleBaseline": "middle", "titleX": -63, "titleY": 17
      }},
  "color": {"field": "s", "type": "nominal",
    "scale": {"domain": ["AVG 极值 @BT/SGMWJ 08244.2-RE(0.15-30MHz)", "AVG 极值 @BT/SGMWJ 08244.2-RE(0.15-30MHz)_display", "PK+ 极值 @BT/SGMWJ 08244.2-RE(0.15-30MHz)", "PK+ 极值 @BT/SGMWJ 08244.2-RE(0.15-30MHz)_display"],
      "range": ["#3ea02a", "#3ea02a", "#e38f28", "#e38f28"]},
    "legend": {"orient": "none", "legendX": 439, "legendY": 753, "title": null,
      "symbolType": "M-1,0.2C-0.7,-1.2 -0.3,-1.2 0,0C0.3,1.2 0.7,1.2 1,-0.6",
      "symbolSize": 169, "symbolStrokeWidth": 1.6, "symbolFillColor": "transparent",
      "labelFont": "Noto Sans CJK SC", "labelFontSize": 16, "labelColor": "#111", "labelOffset": 2,
      "rowPadding": 5, "labelLimit": 600}
  }}}
],
"resolve": {"scale": {"color": "independent"}, "axis": {"y": "independent"}}
}
